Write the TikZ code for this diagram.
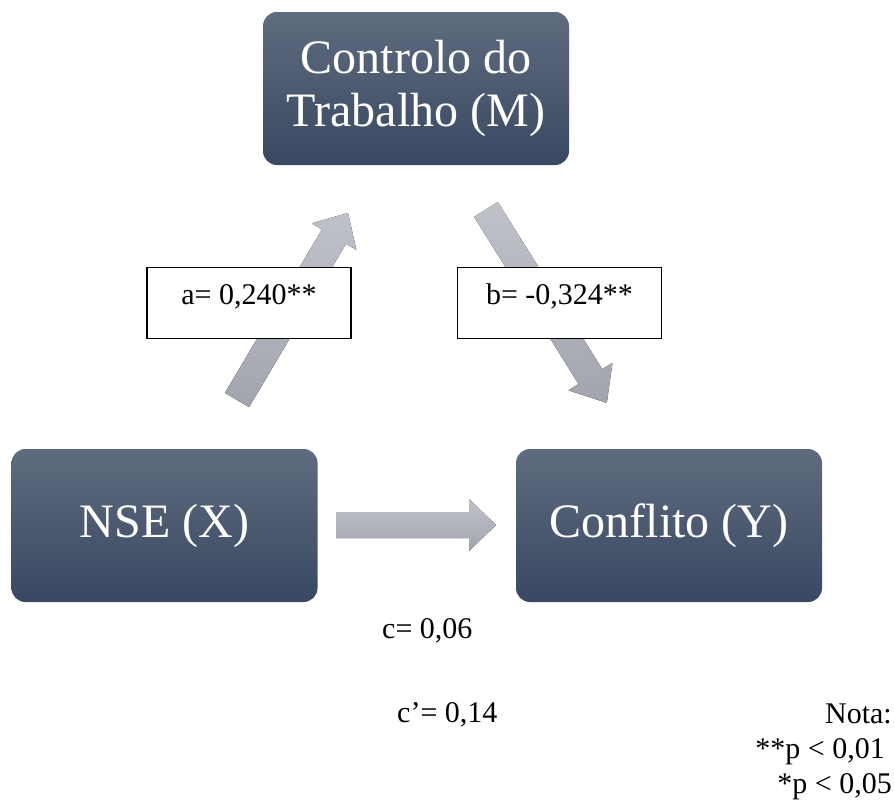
\documentclass[tikz,border=0pt]{standalone}
\usepackage{fontspec}
\setmainfont{Liberation Serif}
\begin{document}
\begin{tikzpicture}[x=1pt,y=-1pt,
  varbox/.style={rounded corners=14pt, top color=boxtop, bottom color=boxbot,
    text=white, align=center, minimum width=306pt, minimum height=153pt,
    inner sep=0pt, font=\fontsize{48}{53}\selectfont},
  labelbox/.style={draw=black, line width=1.3pt, fill=white, anchor=north,
    minimum width=204pt, inner xsep=0pt, inner ysep=0pt, text height=37pt,
    text depth=34pt, font=\fontsize{30}{34}\selectfont},
  plain/.style={inner sep=0pt, font=\fontsize{30}{34}\selectfont},
  fatarrow/.style={top color=arrtop, bottom color=arrbot, draw=none}]
\definecolor{boxtop}{HTML}{5F6B7E}
\definecolor{boxbot}{HTML}{394862}
\definecolor{arrtop}{HTML}{BFC2C9}
\definecolor{arrbot}{HTML}{A2A5AD}
\useasboundingbox (0,0) rectangle (895,803);

% arrows
\begin{scope}[shift={(336,525)}]
  \fill[fatarrow] (0,-13) -- (133,-13) -- (133,-26) -- (160,0) -- (133,26) -- (133,13) -- (0,13) -- cycle;
\end{scope}
\begin{scope}[shift={(237,400)}, rotate=59.3]
  \fill[fatarrow] (0,-14) -- (190,-14) -- (190,-26) -- (217.5,0) -- (190,26) -- (190,14) -- (0,14) -- cycle;
\end{scope}
\begin{scope}[shift={(486,209.5)}, rotate=-58]
  \fill[fatarrow] (0,-14) -- (197,-14) -- (197,-26) -- (228,0) -- (197,26) -- (197,14) -- (0,14) -- cycle;
\end{scope}

% variable boxes
\node[varbox] (M) at (416,88.5) {Controlo do\\Trabalho (M)};
\node[varbox] (X) at (164.5,525.5) {NSE (X)};
\node[varbox] (Y) at (669,525.5) {Conflito (Y)};

% path labels
\node[labelbox] (a) at (249,267) {a= 0,240**};
\node[labelbox] (b) at (559.5,267) {b= -0,324**};

% bottom texts
\node[plain, anchor=base west] (c) at (382,638) {c= 0,06};
\node[plain, anchor=base west] (cp) at (397,722) {c’= 0,14};
\node[plain, anchor=base east] (nota) at (892,723) {Nota:};
\node[plain, anchor=base east] (p1) at (885,758) {**p < 0,01};
\node[plain, anchor=base east] (p2) at (892,793) {*p < 0,05};
\end{tikzpicture}
\end{document}
